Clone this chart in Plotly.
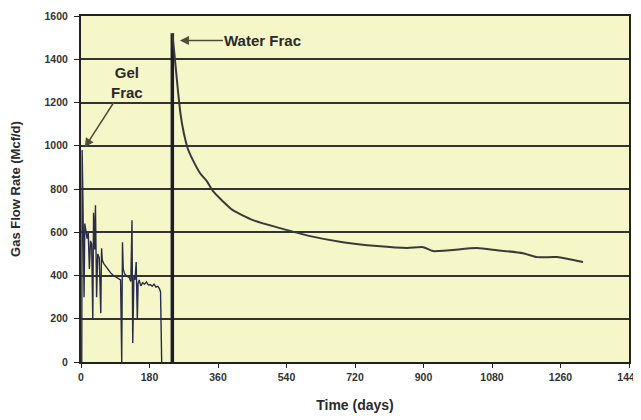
import plotly.graph_objects as go

# Gel frac period (days, Mcf/d) - noisy early production
gel_days = [2, 3, 5, 8, 10, 13, 16, 19, 22, 25, 28, 31, 33, 36, 38, 41, 44, 48,
            52, 54, 56, 60, 66, 72, 78, 84, 90, 96, 100, 104, 107, 109, 111, 114,
            118, 122, 127, 131, 134, 136, 139, 142, 145, 148, 150, 153, 157, 162,
            167, 172, 177, 182, 187, 192, 197, 202, 206, 209, 212]
gel_rate = [0, 980, 760, 300, 640, 590, 570, 600, 430, 560, 545, 194, 690, 520,
            725, 300, 500, 480, 226, 526, 470, 455, 440, 425, 412, 402, 396, 390,
            385, 380, 0, 554, 430, 410, 400, 395, 390, 372, 656, 88, 400, 380, 462,
            194, 362, 380, 352, 366, 360, 370, 356, 358, 350, 360, 346, 350, 340,
            325, 0]

# Water frac: spike then decline
frac_day = [240, 240]
frac_rate = [0, 1520]

water_days = [240, 244, 249, 255, 262, 270, 281, 295, 313, 331, 347, 370, 399, 452,
              523, 602, 688, 778, 857, 899, 925, 1040, 1093, 1161, 1198, 1251, 1319]
water_rate = [1520, 1450, 1360, 1250, 1140, 1060, 985, 930, 873, 835, 790, 748, 702,
              656, 619, 582, 554, 536, 527, 531, 513, 527, 517, 503, 485, 485, 462]

x_ticks = [0, 180, 360, 540, 720, 900, 1080, 1260, 1440]
y_ticks = [0, 200, 400, 600, 800, 1000, 1200, 1400, 1600]

FONT = "Liberation Sans"

fig = go.Figure()
fig.add_trace(go.Scatter(x=gel_days, y=gel_rate, mode="lines",
                         line=dict(color="#2b2d48", width=1.4)))
fig.add_trace(go.Scatter(x=frac_day, y=frac_rate, mode="lines",
                         line=dict(color="#1c1c2c", width=3.5)))
fig.add_trace(go.Scatter(x=water_days, y=water_rate, mode="lines",
                         line=dict(color="#3a3a3a", width=2, shape="spline",
                                   smoothing=0.6)))

fig.add_annotation(x=10, y=993, text="<b>Gel<br>Frac</b>", showarrow=True,
                   ax=42, ay=-65, arrowhead=2, arrowsize=1.2, arrowwidth=1.5,
                   arrowcolor="#4d4d3a",
                   font=dict(family=FONT, size=15, color="#2a2a2a"))
fig.add_annotation(x=260, y=1487, text="<b>Water Frac</b>", showarrow=True,
                   ax=83, ay=0, arrowhead=2, arrowsize=1.2, arrowwidth=1.5,
                   arrowcolor="#4d4d3a",
                   font=dict(family=FONT, size=15, color="#2a2a2a"))

# page body has an 8px margin, so the figure is sized/offset to compensate
fig.update_layout(
    width=633, height=412,
    margin=dict(l=73, r=12, t=8, b=58),
    paper_bgcolor="white",
    plot_bgcolor="#f5f7c8",
    showlegend=False,
    font=dict(family=FONT, color="#2a2a2a"),
)
fig.update_xaxes(
    range=[0, 1440], tickvals=x_ticks, showgrid=False, zeroline=False,
    showline=True, linecolor="#222", linewidth=2, mirror=True, automargin=False,
    ticks="outside", ticklen=4, tickcolor="#222",
    tickfont=dict(size=10.5, weight="bold", color="#333"),
    title=dict(text="Time (days)", font=dict(size=14, weight="bold", color="#2a2a2a"),
               standoff=19),
)
fig.update_yaxes(
    range=[0, 1600], tickvals=y_ticks, showgrid=True, gridcolor="#333",
    gridwidth=2, zeroline=False, automargin=False,
    showline=True, linecolor="#222", linewidth=2, mirror=True,
    ticks="outside", ticklen=5, tickcolor="#222", ticklabelstandoff=4,
    tickfont=dict(size=10.5, weight="bold", color="#333"),
    title=dict(text="Gas Flow Rate (Mcf/d)",
               font=dict(size=13, weight="bold", color="#2a2a2a"), standoff=26),
)

fig.write_html("out.html")
